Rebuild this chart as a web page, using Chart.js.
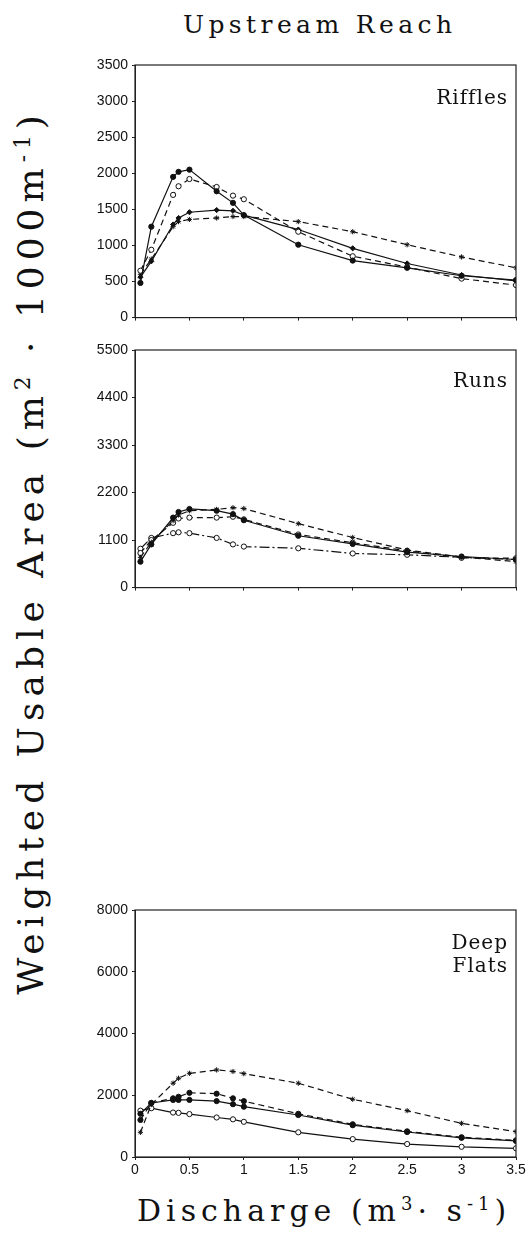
<!DOCTYPE html>
<html>
<head>
<meta charset="utf-8">
<script src="https://cdn.jsdelivr.net/npm/chart.js@4.4.1/dist/chart.umd.min.js"></script>
<style>
  html, body { margin: 0; padding: 0; background: #fff; }
  #page { position: relative; width: 530px; height: 1241px; overflow: hidden; }
  canvas { position: absolute; left: 0; }
  .txt { position: absolute; font-family: "DejaVu Serif", serif; color: #111; white-space: nowrap; }
  #title { left: 183px; top: 10px; font-size: 25px; letter-spacing: 4.4px; }
  #xtitle { left: 137px; top: 1193px; font-size: 30px; letter-spacing: 5px; }
  #ytitle { left: 30px; top: 552px; font-size: 36px; letter-spacing: 6px;
            transform: translate(-50%, -50%) rotate(-90deg); }
  sup { font-size: 60%; }
</style>
</head>
<body>
<div id="page">
  <div class="txt" id="title">Upstream Reach</div>
  <div class="txt" id="ytitle">Weighted Usable Area (m<sup>2</sup> · 1000m<sup>-1</sup>)</div>
  <div class="txt" id="xtitle">Discharge (m<sup>3</sup>· s<sup>-1</sup>)</div>
  <canvas id="riffles" width="530" height="330" style="top:0px"></canvas>
  <canvas id="runs" width="530" height="270" style="top:330px"></canvas>
  <canvas id="flats" width="530" height="300" style="top:880px"></canvas>
</div>
<script>
// discharge values (m3/s) shared by all curves
const discharge = [0.05, 0.15, 0.35, 0.4, 0.5, 0.75, 0.9, 1.0, 1.5, 2.0, 2.5, 3.0, 3.5];
const xTicks = [0, 0.5, 1, 1.5, 2, 2.5, 3, 3.5];

// Riffles
const riffles1 = [480, 1260, 1950, 2020, 2050, 1750, 1590, 1420, 1010, 790, 690, 580, 520];
const riffles2 = [650, 940, 1700, 1820, 1920, 1810, 1690, 1640, 1190, 850, 700, 540, 450];
const riffles3 = [560, 780, 1290, 1380, 1460, 1490, 1480, 1420, 1220, 960, 750, 590, 510];
const riffles4 = [600, 810, 1260, 1330, 1360, 1380, 1400, 1400, 1330, 1190, 1010, 840, 690];

// Runs
const runs1 = [600, 1000, 1620, 1750, 1820, 1780, 1700, 1560, 1200, 1010, 820, 720, 650];
const runs2 = [700, 1050, 1550, 1680, 1780, 1810, 1850, 1830, 1480, 1160, 870, 710, 600];
const runs3 = [800, 1100, 1500, 1600, 1620, 1620, 1640, 1580, 1230, 1040, 850, 690, 680];
const runs4 = [900, 1150, 1260, 1280, 1260, 1150, 1000, 950, 910, 790, 760, 700, 650];

// Deep flats
const flats1 = [800, 1700, 2390, 2550, 2710, 2820, 2770, 2700, 2390, 1870, 1500, 1090, 820];
const flats2 = [1200, 1750, 1900, 1950, 2080, 2050, 1900, 1810, 1400, 1060, 830, 640, 540];
const flats3 = [1400, 1750, 1850, 1850, 1850, 1810, 1710, 1630, 1360, 1030, 810, 620, 520];
const flats4 = [1500, 1580, 1440, 1430, 1390, 1280, 1220, 1140, 800, 580, 420, 330, 280];

const frame = {
  id: 'frame',
  afterDraw(chart) {
    const a = chart.chartArea, c = chart.ctx;
    c.save();
    c.strokeStyle = '#222';
    c.lineWidth = 1.2;
    c.strokeRect(a.left, a.top, a.right - a.left, a.bottom - a.top);
    c.fillStyle = '#111';
    c.font = '20px "DejaVu Serif"';
    c.letterSpacing = '1px';
    c.textAlign = 'right';
    c.textBaseline = 'top';
    const p = chart.options.plugins.panel;
    p.lines.forEach((t, i) => c.fillText(t, a.right - 8, a.top + p.dy + i * 23));
    c.restore();
  }
};

function series(vals, dash, style, filled) {
  return {
    data: vals.map((v, i) => ({ x: discharge[i], y: v })),
    borderColor: '#111',
    borderWidth: 1.2,
    borderDash: dash,
    pointStyle: style,
    pointRadius: 2.6,
    pointBorderWidth: 1,
    pointBorderColor: '#111',
    pointBackgroundColor: filled ? '#111' : '#fff',
    showLine: true,
    fill: false,
    tension: 0
  };
}

function makePanel(id, sets, yMax, yStep, opts) {
  new Chart(document.getElementById(id), {
    type: 'scatter',
    data: { datasets: sets },
    options: {
      responsive: false,
      animation: false,
      layout: { padding: { top: opts.top, right: 14, left: 0, bottom: 0 } },
      plugins: { legend: { display: false }, tooltip: { enabled: false },
                 panel: { lines: opts.label, dy: opts.dy } },
      scales: {
        x: {
          type: 'linear', min: 0, max: 3.5,
          afterBuildTicks: s => { s.ticks = xTicks.map(v => ({ value: v })); },
          afterFit: s => { s.height = opts.xh; },
          grid: { drawOnChartArea: false, tickLength: 3, color: '#222' },
          border: { color: '#222' },
          ticks: { display: opts.showX, color: '#111', padding: 2,
                   font: { family: 'Liberation Sans', size: 14 },
                   callback: v => String(v) }
        },
        y: {
          min: 0, max: yMax,
          afterFit: s => { s.width = 135; },
          grid: { drawOnChartArea: false, tickLength: 3, color: '#222' },
          border: { color: '#222' },
          ticks: { stepSize: yStep, color: '#111', padding: 4,
                   font: { family: 'Liberation Sans', size: 14 },
                   callback: v => String(v) }
        }
      }
    },
    plugins: [frame]
  });
}

makePanel('riffles', [
  series(riffles1, [], 'circle', true),
  series(riffles2, [6, 4], 'circle', false),
  series(riffles3, [], 'rectRot', true),
  series(riffles4, [6, 4], 'star', true)
], 3500, 500, { top: 65, xh: 12, showX: false, label: ['Riffles'], dy: 24 });

makePanel('runs', [
  series(runs1, [], 'circle', true),
  series(runs2, [6, 4], 'star', true),
  series(runs3, [6, 4], 'circle', false),
  series(runs4, [10, 3, 2, 3], 'circle', false)
], 5500, 1100, { top: 20, xh: 10, showX: false, label: ['Runs'], dy: 22 });

makePanel('flats', [
  series(flats1, [6, 4], 'star', true),
  series(flats2, [6, 4], 'circle', true),
  series(flats3, [], 'circle', true),
  series(flats4, [], 'circle', false)
], 8000, 2000, { top: 30, xh: 23, showX: true, label: ['Deep', 'Flats'], dy: 24 });
</script>
</body>
</html>
